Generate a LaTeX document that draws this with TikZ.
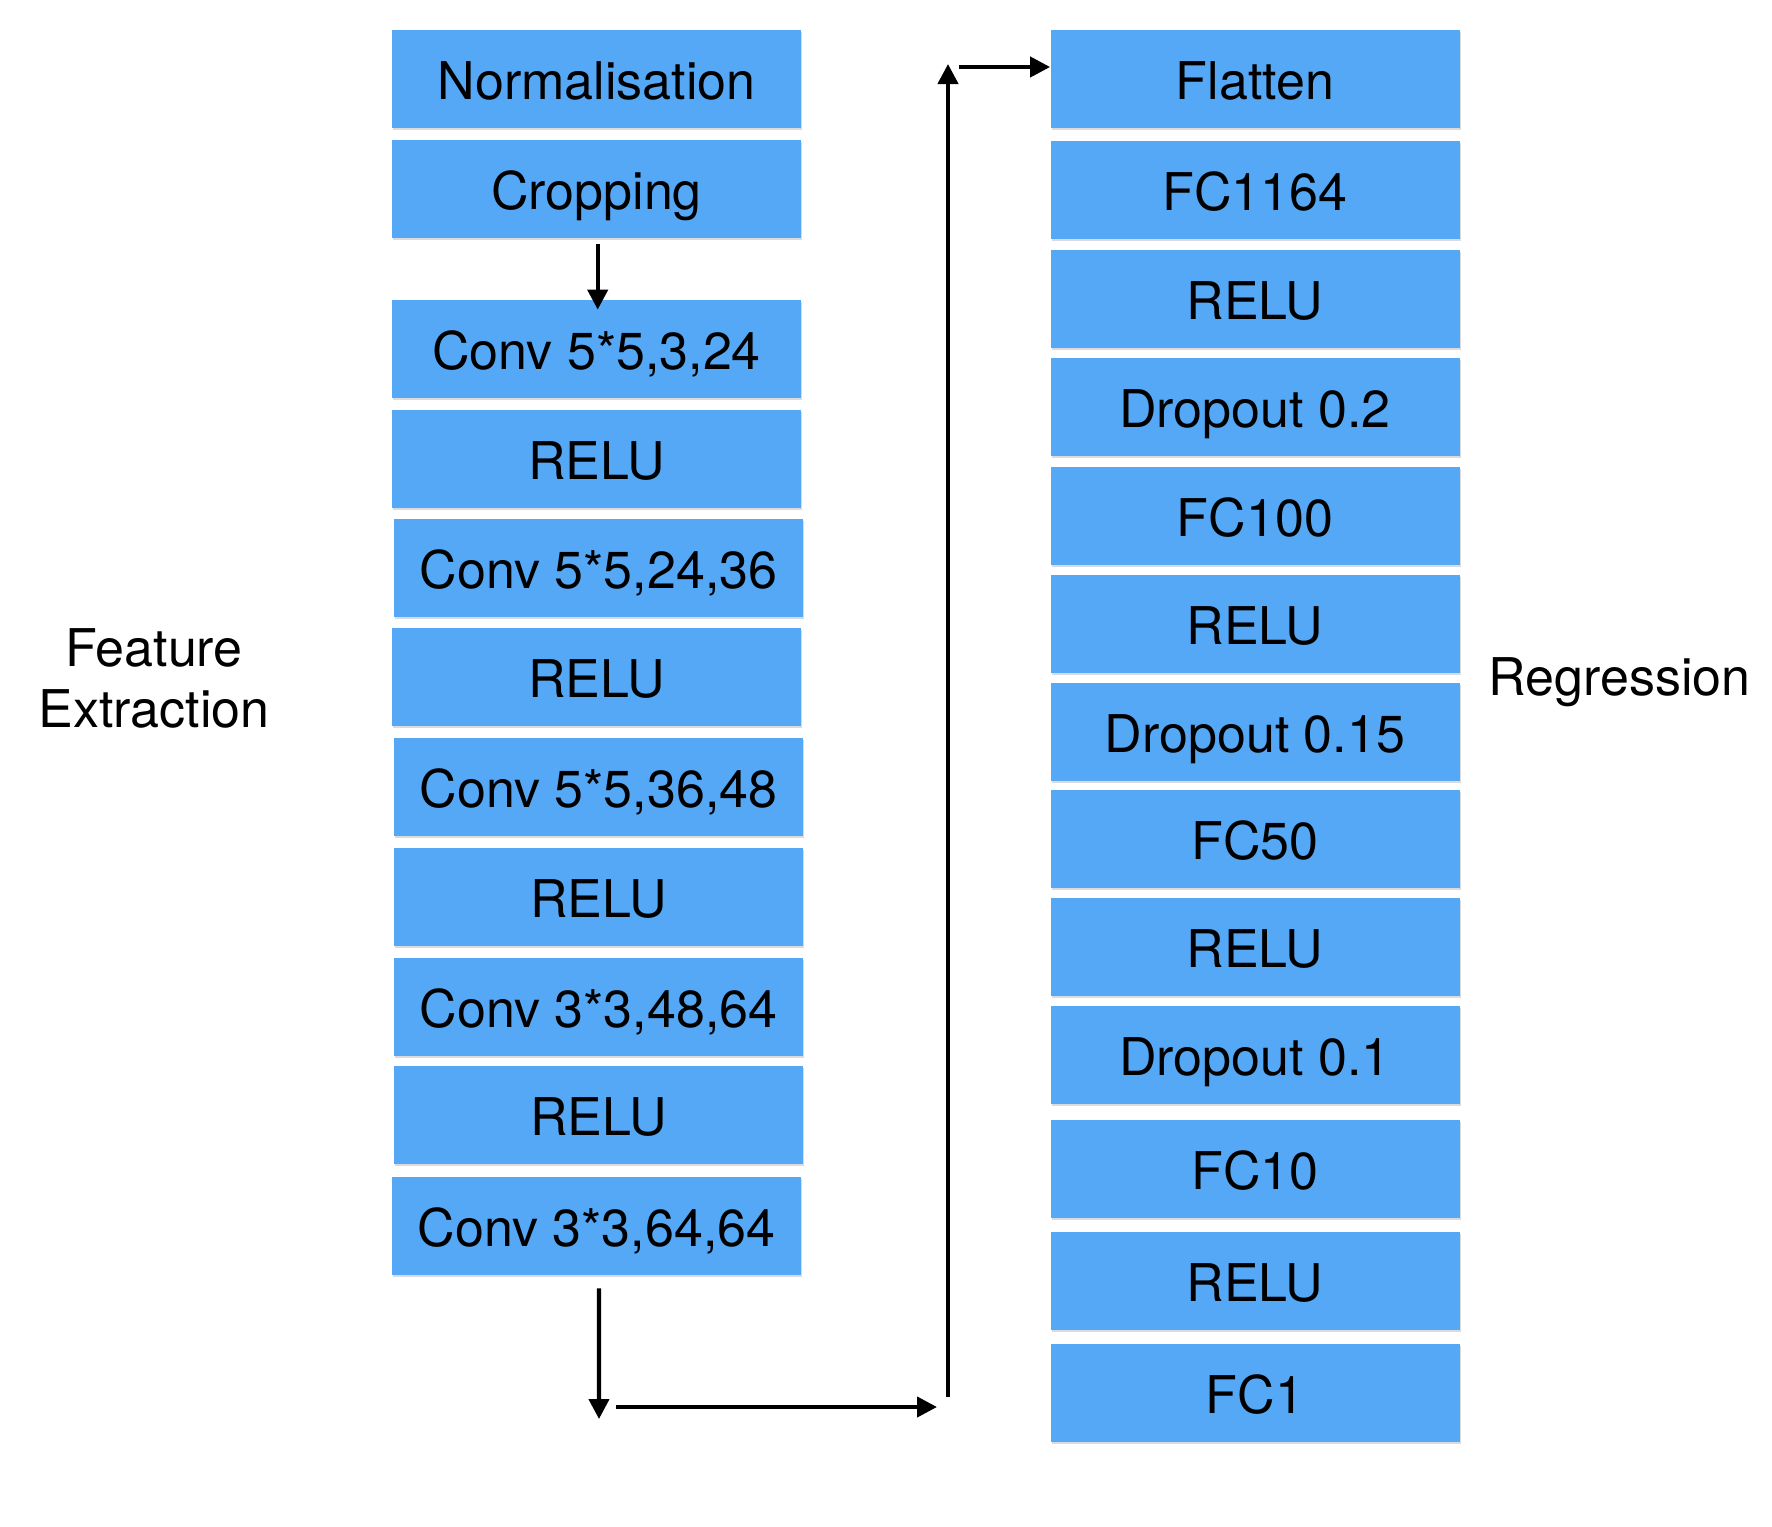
\documentclass[tikz,border=0pt]{standalone}
\usepackage{fontspec}
\setmainfont{TeX Gyre Heros}
\usetikzlibrary{arrows.meta,shadows}
\definecolor{boxblue}{HTML}{55A8F6}
\begin{document}
\begin{tikzpicture}[x=0.5pt,y=-0.5pt,
  layer/.style={fill=boxblue, draw=none, inner sep=0pt,
    minimum width=204.5pt, minimum height=49pt,
    text height=20.5pt, text depth=0pt,
    font=\fontsize{26pt}{30.5pt}\selectfont,
    drop shadow={shadow xshift=0.6pt, shadow yshift=-1.2pt, opacity=0.14, fill=black}},
  lbl/.style={font=\fontsize{26pt}{30.5pt}\selectfont, inner sep=0pt},
  arr/.style={line width=2.1pt, -{Triangle[length=10pt,width=10pt]}},
  plain/.style={line width=2.1pt}]
\useasboundingbox[fill=white] (0,0) rectangle (1772,1526);
% left column
\node[layer] (L1)  at (596.5,79)   {Normalisation};
\node[layer] (L2)  at (596.5,189)  {Cropping};
\node[layer] (L3)  at (596.5,349)  {Conv 5*5,3,24};
\node[layer] (L4)  at (596.5,459)  {RELU};
\node[layer] (L5)  at (598.5,568)  {Conv 5*5,24,36};
\node[layer] (L6)  at (596.5,677)  {RELU};
\node[layer] (L7)  at (598.5,787)  {Conv 5*5,36,48};
\node[layer] (L8)  at (598.5,897)  {RELU};
\node[layer] (L9)  at (598.5,1007) {Conv 3*3,48,64};
\node[layer] (L10) at (598.5,1115) {RELU};
\node[layer] (L11) at (596.5,1226) {Conv 3*3,64,64};
% right column
\node[layer] (R1)  at (1255,79)   {Flatten};
\node[layer] (R2)  at (1255,190)  {FC1164};
\node[layer] (R3)  at (1255,299)  {RELU};
\node[layer] (R4)  at (1255,407)  {Dropout 0.2};
\node[layer] (R5)  at (1255,516)  {FC100};
\node[layer] (R6)  at (1255,624)  {RELU};
\node[layer] (R7)  at (1255,732)  {Dropout 0.15};
\node[layer] (R8)  at (1255,839)  {FC50};
\node[layer] (R9)  at (1255,947)  {RELU};
\node[layer] (R10) at (1255,1055) {Dropout 0.1};
\node[layer] (R11) at (1255,1169) {FC10};
\node[layer] (R12) at (1255,1281) {RELU};
\node[layer] (R13) at (1255,1393) {FC1};
% side labels
\node[lbl, align=center] (fe) at (154,678) {Feature\\Extraction};
\node[lbl, anchor=base] (rg) at (1619.5,695) {Regression};
% connectors
\draw[arr] ([xshift=0.6pt,yshift=-3pt]L2.south) -- ([xshift=0.6pt,yshift=-5pt]L3.north);
\coordinate (d1) at (599,1419);
\coordinate (h1) at (616,1407);
\coordinate (h2) at (937,1407);
\coordinate (v1) at (948,1397);
\coordinate (v2) at (948,64);
\coordinate (t1) at (959,67);
\draw[arr] ([xshift=1.2pt,yshift=-6.5pt]L11.south) -- (d1);
\draw[arr] (h1) -- (h2);
\draw[arr] (v1) -- (v2);
\draw[arr] (t1) -- (R1.west |- t1);
\end{tikzpicture}
\end{document}
